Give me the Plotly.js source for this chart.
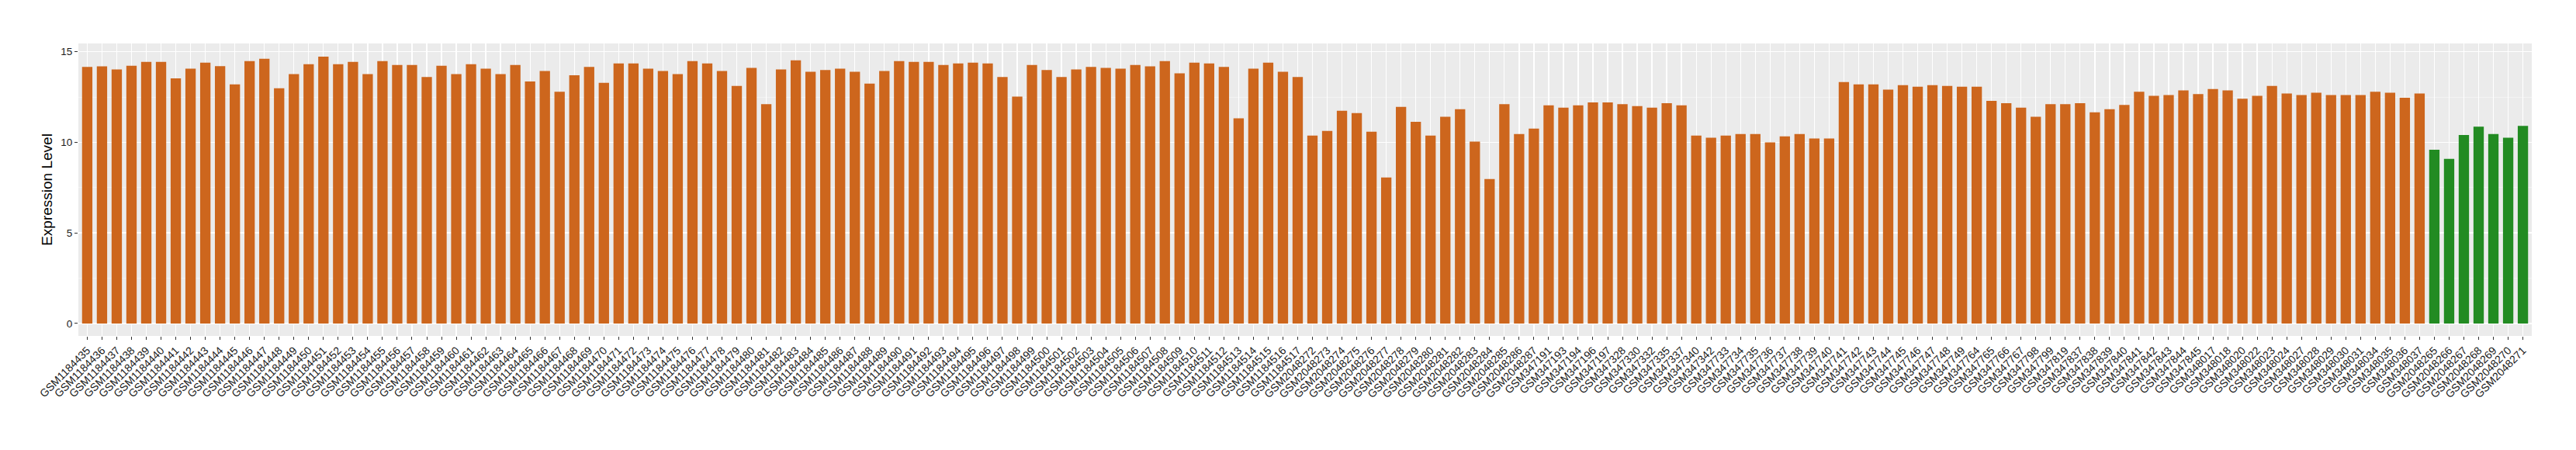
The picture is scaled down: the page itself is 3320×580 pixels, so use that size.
<!DOCTYPE html>
<html>
<head>
<meta charset="utf-8">
<script src="https://cdn.plot.ly/plotly-3.0.1.min.js"></script>
<style>html,body{margin:0;padding:0;background:#fff;}#chart{width:3320px;height:580px;}</style>
</head>
<body>
<div id="chart"></div>
<script>
// Samples (orange group) and their expression levels
const samples = [
  "GSM1184435","GSM1184436","GSM1184437","GSM1184438","GSM1184439","GSM1184440","GSM1184441","GSM1184442","GSM1184443","GSM1184444",
  "GSM1184445","GSM1184446","GSM1184447","GSM1184448","GSM1184449","GSM1184450","GSM1184451","GSM1184452","GSM1184453","GSM1184454",
  "GSM1184455","GSM1184456","GSM1184457","GSM1184458","GSM1184459","GSM1184460","GSM1184461","GSM1184462","GSM1184463","GSM1184464",
  "GSM1184465","GSM1184466","GSM1184467","GSM1184468","GSM1184469","GSM1184470","GSM1184471","GSM1184472","GSM1184473","GSM1184474",
  "GSM1184475","GSM1184476","GSM1184477","GSM1184478","GSM1184479","GSM1184480","GSM1184481","GSM1184482","GSM1184483","GSM1184484",
  "GSM1184485","GSM1184486","GSM1184487","GSM1184488","GSM1184489","GSM1184490","GSM1184491","GSM1184492","GSM1184493","GSM1184494",
  "GSM1184495","GSM1184496","GSM1184497","GSM1184498","GSM1184499","GSM1184500","GSM1184501","GSM1184502","GSM1184503","GSM1184504",
  "GSM1184505","GSM1184506","GSM1184507","GSM1184508","GSM1184509","GSM1184510","GSM1184511","GSM1184512","GSM1184513","GSM1184514",
  "GSM1184515","GSM1184516","GSM1184517",
  "GSM2048272","GSM2048273","GSM2048274","GSM2048275","GSM2048276","GSM2048277","GSM2048278","GSM2048279","GSM2048280","GSM2048281",
  "GSM2048282","GSM2048283","GSM2048284","GSM2048285","GSM2048286","GSM2048287",
  "GSM347191","GSM347193","GSM347194","GSM347196","GSM347197","GSM347328","GSM347330","GSM347332","GSM347335","GSM347337",
  "GSM347340","GSM347342",
  "GSM347733","GSM347734","GSM347735","GSM347736","GSM347737","GSM347738","GSM347739","GSM347740","GSM347741","GSM347742",
  "GSM347743","GSM347744","GSM347745","GSM347746","GSM347747","GSM347748","GSM347749",
  "GSM347764","GSM347765","GSM347766","GSM347767","GSM347798","GSM347799","GSM347819","GSM347837","GSM347838","GSM347839",
  "GSM347840","GSM347841","GSM347842","GSM347843","GSM347844","GSM347845",
  "GSM348017","GSM348018","GSM348020","GSM348022","GSM348023","GSM348024","GSM348027","GSM348028","GSM348029","GSM348030",
  "GSM348031","GSM348034","GSM348035","GSM348036","GSM348037"
];
const values = [
  14.16,14.20,14.03,14.23,14.44,14.44,13.53,14.07,14.40,14.21,
  13.20,14.49,14.61,12.99,13.77,14.31,14.73,14.31,14.44,13.77,
  14.49,14.27,14.27,13.61,14.23,13.77,14.31,14.07,13.77,14.27,
  13.36,13.94,12.79,13.70,14.16,13.29,14.36,14.36,14.07,13.94,
  13.77,14.49,14.36,13.94,13.11,14.11,12.11,14.03,14.53,13.90,
  13.99,14.07,13.90,13.24,13.94,14.49,14.44,14.44,14.27,14.36,
  14.40,14.36,13.61,12.53,14.27,13.99,13.61,14.03,14.16,14.11,
  14.07,14.27,14.20,14.49,13.81,14.40,14.36,14.16,11.33,14.07,
  14.40,13.90,13.61,
  10.37,10.63,11.74,11.61,10.59,8.06,11.96,11.13,10.37,11.41,
  11.83,10.04,7.97,12.11,10.46,10.76,
  12.04,11.91,12.04,12.20,12.20,12.11,12.00,11.91,12.16,12.04,
  10.37,10.26,
  10.37,10.46,10.46,10.00,10.33,10.46,10.21,10.21,13.33,13.20,
  13.20,12.91,13.16,13.07,13.16,13.11,13.07,
  13.07,12.29,12.16,11.91,11.41,12.11,12.11,12.16,11.66,11.83,
  12.07,12.79,12.57,12.61,12.87,12.66,
  12.94,12.87,12.41,12.57,13.11,12.70,12.61,12.74,12.61,12.61,
  12.61,12.79,12.74,12.46,12.70
];
// Second (green) group
const controlSamples = ["GSM2048265","GSM2048266","GSM2048267","GSM2048268","GSM2048269","GSM2048270","GSM2048271"];
const controlValues = [9.59,9.09,10.41,10.87,10.46,10.26,10.91];

const yTicks = [0, 5, 10, 15];
const yTitle = "Expression Level";

const allSamples = samples.concat(controlSamples);

const traces = [
  {type: "bar", x: samples, y: values, marker: {color: "#CD661D"}, hoverinfo: "x+y"},
  {type: "bar", x: controlSamples, y: controlValues, marker: {color: "#228B22"}, hoverinfo: "x+y"}
];

const layout = {
  width: 3320, height: 580,
  margin: {l: 101, r: 57, t: 56, b: 147.33, pad: 0},
  paper_bgcolor: "#FFFFFF",
  plot_bgcolor: "#EBEBEB",
  showlegend: false,
  barmode: "overlay",
  bargap: 0.3,
  font: {family: "Liberation Sans, Arial, sans-serif", color: "#4D4D4D", size: 14},
  xaxis: {
    type: "category",
    categoryorder: "array",
    categoryarray: allSamples,
    tickmode: "array",
    tickvals: allSamples,
    ticktext: allSamples,
    range: [-0.6, allSamples.length - 0.4],
    tickangle: -45,
    ticks: "outside", ticklen: 4, tickwidth: 1, tickcolor: "#333333",
    tickfont: {size: 14, color: "#1a1a1a"},
    showgrid: true, gridcolor: "#FFFFFF", gridwidth: 1.3,
    zeroline: false, showline: false, automargin: false,
    fixedrange: true
  },
  yaxis: {
    range: [-0.69, 15.46],
    tickmode: "array", tickvals: yTicks,
    ticks: "outside", ticklen: 4, tickwidth: 1, tickcolor: "#333333",
    tickfont: {size: 13.5, color: "#1a1a1a"},
    showgrid: true, gridcolor: "#FFFFFF", gridwidth: 1.5,
    minor: {dtick: 2.5, tick0: 0, showgrid: true, gridcolor: "#F7F7F7", gridwidth: 0.7, ticks: ""},
    zeroline: false, showline: false, automargin: false,
    title: {text: yTitle, font: {size: 19, color: "#000000"}, standoff: 5},
    fixedrange: true
  }
};

Plotly.newPlot("chart", traces, layout, {displayModeBar: false, staticPlot: true});
</script>
</body>
</html>
